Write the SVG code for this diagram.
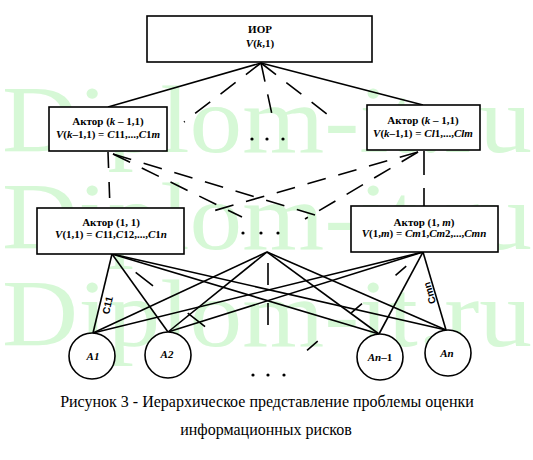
<svg xmlns="http://www.w3.org/2000/svg" width="533" height="460" viewBox="0 0 533 460">
<style>
.wm{font-family:"Liberation Serif","Times New Roman",serif;font-size:95px;fill:#d6f8d6}
.box{fill:#fff;stroke:#000;stroke-width:1.6}
.c{fill:#fff;stroke:#000;stroke-width:1.6}
.t{font-family:"Liberation Serif","Times New Roman",serif;font-size:11px;font-weight:bold;text-anchor:middle;fill:#000}
.i{font-style:italic}
.s{stroke:#000;stroke-width:1.6;fill:none}
.d{stroke:#000;stroke-width:1.6;fill:none;stroke-dasharray:19 13}
.lbl{font-family:"Liberation Sans",Arial,sans-serif;font-size:10px;font-weight:bold;text-anchor:middle;fill:#000}
.dot{fill:#000}
.cap{font-family:"Liberation Serif","Times New Roman",serif;font-size:16px;text-anchor:middle;fill:#000}
</style>
<rect width="533" height="460" fill="#fff"/>
<g id="watermark">
<text class="wm" x="2" y="152" textLength="530" lengthAdjust="spacingAndGlyphs">Diplom-it.ru</text>
<text class="wm" x="2" y="249" textLength="530" lengthAdjust="spacingAndGlyphs">Diplom-it.ru</text>
<text class="wm" x="2" y="346" textLength="530" lengthAdjust="spacingAndGlyphs">Diplom-it.ru</text>
</g>
<g id="connectors">
<line class="s" x1="261" y1="63" x2="108" y2="107"/>
<line class="s" x1="261" y1="63" x2="423" y2="105"/>
<line class="d" x1="261" y1="63" x2="184" y2="122"/>
<line class="d" x1="261" y1="63" x2="274" y2="124"/>
<line class="d" x1="261" y1="63" x2="336" y2="121"/>
<line class="d" x1="108" y1="152" x2="110" y2="208" style="stroke-dasharray:16 14"/>
<line class="d" x1="424" y1="151" x2="424" y2="206" style="stroke-dasharray:24 13"/>
<line class="d" x1="113" y1="154" x2="325" y2="218"/>
<line class="d" x1="113" y1="154" x2="242" y2="217"/>
<line class="d" x1="418" y1="152" x2="213" y2="211"/>
<line class="d" x1="418" y1="152" x2="305" y2="219"/>
<line class="s" x1="112" y1="254" x2="93" y2="333"/>
<line class="s" x1="112" y1="254" x2="168" y2="332"/>
<line class="s" x1="112" y1="254" x2="379" y2="334"/>
<line class="s" x1="112" y1="254" x2="446" y2="330"/>
<line class="s" x1="267" y1="252" x2="93" y2="333"/>
<line class="s" x1="267" y1="252" x2="168" y2="332"/>
<line class="s" x1="267" y1="252" x2="379" y2="334"/>
<line class="s" x1="267" y1="252" x2="446" y2="330"/>
<line class="s" x1="423" y1="252" x2="93" y2="333"/>
<line class="s" x1="423" y1="252" x2="168" y2="332"/>
<line class="s" x1="423" y1="252" x2="379" y2="334"/>
<line class="s" x1="423" y1="252" x2="446" y2="330"/>
<line class="d" x1="112" y1="254" x2="230" y2="346" style="stroke-dasharray:0 30 22 14"/>
<line class="d" x1="423" y1="252" x2="305" y2="352" style="stroke-dasharray:0 22 14 22"/>
<line class="d" x1="268" y1="263" x2="268" y2="332" style="stroke-dasharray:22 18"/>
<text class="lbl" transform="translate(111,306) rotate(-77)">C11</text>
<text class="lbl" transform="translate(433,292) rotate(-106)">Cmn</text>
</g>
<g id="top">
<rect class="box" x="147" y="16" width="225" height="46"/>
<text class="t" x="260" y="33">ИОР</text>
<text class="t" x="260" y="47"><tspan class="i">V</tspan>(<tspan class="i">k</tspan>,1)</text>
</g>
<g id="actor-k1-left">
<rect class="box" x="49" y="107" width="118" height="44"/>
<text class="t" x="108" y="125">Актор (<tspan class="i">k</tspan> – 1,1)</text>
<text class="t" x="108" y="138"><tspan class="i">V</tspan>(<tspan class="i">k</tspan>–1,1) = <tspan class="i">C</tspan>11,...,<tspan class="i">C</tspan>1<tspan class="i">m</tspan></text>
</g>
<g id="actor-k1-right">
<rect class="box" x="367" y="105" width="113" height="45"/>
<text class="t" x="423" y="124">Актор (<tspan class="i">k</tspan> – 1,1)</text>
<text class="t" x="423" y="137"><tspan class="i">V</tspan>(<tspan class="i">k</tspan>–1,1) = <tspan class="i">Cl</tspan>1,...,<tspan class="i">Clm</tspan></text>
</g>
<g id="actor-11">
<rect class="box" x="37" y="208" width="147" height="46"/>
<text class="t" x="111" y="226">Актор (1, 1)</text>
<text class="t" x="111" y="238"><tspan class="i">V</tspan>(1,1) = <tspan class="i">C</tspan>11,<tspan class="i">C</tspan>12,...,<tspan class="i">C</tspan>1<tspan class="i">n</tspan></text>
</g>
<g id="actor-1m">
<rect class="box" x="351" y="206" width="147" height="46"/>
<text class="t" x="424" y="226">Актор (1, <tspan class="i">m</tspan>)</text>
<text class="t" x="424" y="237"><tspan class="i">V</tspan>(1,<tspan class="i">m</tspan>) = <tspan class="i">Cm</tspan>1,<tspan class="i">Cm</tspan>2,...,<tspan class="i">Cmn</tspan></text>
</g>
<g id="dots-upper">
<circle class="dot" cx="252" cy="139" r="1.6"/><circle class="dot" cx="267" cy="139" r="1.6"/><circle class="dot" cx="283" cy="139" r="1.6"/>
</g>
<g id="dots-middle">
<circle class="dot" cx="243" cy="233" r="1.6"/><circle class="dot" cx="261" cy="233" r="1.6"/><circle class="dot" cx="278" cy="233" r="1.6"/>
</g>
<g id="A1"><circle class="c" cx="92" cy="356" r="23"/><text class="t i" x="93" y="360">A1</text></g>
<g id="A2"><circle class="c" cx="168" cy="355" r="23"/><text class="t i" x="167" y="358">A2</text></g>
<g id="An-1"><circle class="c" cx="380" cy="357" r="23"/><text class="t" x="380" y="361"><tspan class="i">An</tspan>–1</text></g>
<g id="An"><circle class="c" cx="448" cy="353" r="23"/><text class="t i" x="447" y="357">An</text></g>
<g id="dots-bottom">
<circle class="dot" cx="253" cy="375" r="1.6"/><circle class="dot" cx="268" cy="375" r="1.6"/><circle class="dot" cx="284" cy="375" r="1.6"/>
</g>
<g id="caption">
<text class="cap" x="267" y="407">Рисунок 3 - Иерархическое представление проблемы оценки</text>
<text class="cap" x="266" y="435">информационных рисков</text>
</g>
</svg>
